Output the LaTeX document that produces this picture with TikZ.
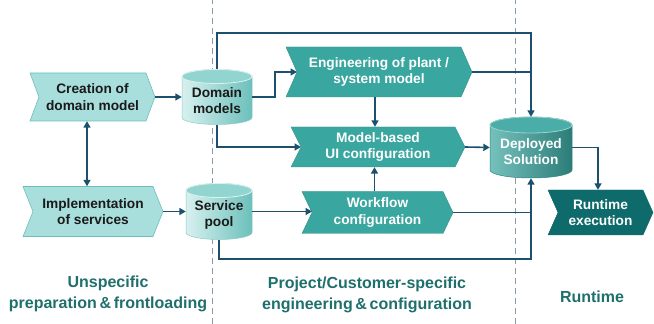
\documentclass[tikz,border=0pt]{standalone}
\usepackage{fontspec}
\setmainfont{Liberation Sans}
\usetikzlibrary{arrows.meta,calc}

\definecolor{lightfill}{HTML}{A8DFDC}
\definecolor{lightedge}{HTML}{6CBFBC}
\definecolor{midfill}{HTML}{3AA6A0}
\definecolor{darkfill}{HTML}{0F6B6B}
\definecolor{wire}{HTML}{1D4F6E}
\definecolor{divider}{HTML}{8A9BA8}
\definecolor{phase}{HTML}{1F6F6C}
\definecolor{ink}{HTML}{1A1A1A}

\tikzset{
  chevlight/.style={fill=lightfill, draw=lightedge, line width=0.6pt},
  chevmid/.style={fill=midfill, draw=midfill!85!black, line width=0.4pt},
  chevdark/.style={fill=darkfill, draw=darkfill, line width=0.4pt},
  chevtext/.style={inner sep=0pt, align=center, font=\bfseries\fontsize{13.7}{16.5}\selectfont},
  txtlight/.style={chevtext, text=ink},
  txtdark/.style={chevtext, text=white},
  cylbodylight/.style={left color=lightfill!45!white, right color=lightfill!45!midfill, draw=lightedge!80!white, line width=0.5pt},
  cyltoplight/.style={fill=lightfill!80!midfill, draw=white!60!lightfill, line width=0.8pt},
  cylbodydark/.style={left color=midfill!70!white, right color=midfill!75!black, draw=midfill!80!black, line width=0.5pt},
  cyltopdark/.style={fill=midfill!92!white, draw=midfill!50!white, line width=0.8pt},
  link/.style={draw=wire, line width=1.6pt},
  arr/.style={link, -{Triangle[width=7pt,length=6.5pt]}},
  arrboth/.style={link, {Triangle[width=7pt,length=6.5pt]}-{Triangle[width=7pt,length=6.5pt]}},
  divline/.style={draw=divider, line width=1pt, dash pattern=on 6pt off 4pt},
  phaselabel/.style={align=center, text=phase, font=\bfseries\fontsize{16}{21}\selectfont}
}

% chevron: name, cx, cy, width, height, depth, shape style, text style
\newcommand\chev[8]{%
  \path[#7] (#2-#4/2,#3+#5/2) -- (#2+#4/2-#6,#3+#5/2) -- (#2+#4/2,#3)
    -- (#2+#4/2-#6,#3-#5/2) -- (#2-#4/2,#3-#5/2) -- (#2-#4/2+#6,#3) -- cycle;
  \node[#8, minimum width=#4, minimum height=#5] (#1) at (#2,#3) {};
  \coordinate (#1-in) at (#2-#4/2+#6,#3);
}
% cylinder: name, cx, cy, width, height, cap radius, kind (light/dark), text
\newcommand\cyl[8]{%
  \path[cylbody#7] (#2-#4/2,#3+#5/2-#6) -- (#2-#4/2,#3-#5/2+#6)
    arc[start angle=180, end angle=360, x radius=#4/2, y radius=#6]
    -- (#2+#4/2,#3+#5/2-#6)
    arc[start angle=0, end angle=180, x radius=#4/2, y radius=#6] -- cycle;
  \path[cyltop#7] (#2,#3+#5/2-#6) ellipse[x radius=#4/2, y radius=#6];
  \node[minimum width=#4, minimum height=#5, inner sep=0pt] (#1) at (#2,#3) {};
  \node[txt#7, anchor=center] at (#2,#3-#6/2) {#8};
}

\begin{document}
\begin{tikzpicture}[x=1pt,y=1pt]
\useasboundingbox (0,0) rectangle (654,324);

% phase dividers
\draw[divline] (212,0) -- (212,324);
\draw[divline] (515,0) -- (515,324);

% shapes
\chev{cre}{92.5}{227}{125}{48}{9}{chevlight}{txtlight}
\node[txtlight] at (cre) {Creation of\\domain model};
\chev{imp}{93}{112.5}{140}{50}{10}{chevlight}{txtlight}
\node[txtlight] at (imp) {Implementation\\of services};

\cyl{dm}{217}{227}{70}{55}{7}{light}{Domain\\models}
\cyl{sp}{219}{112.5}{66}{56}{7}{light}{Service\\pool}

\chev{eng}{379}{252}{186}{50}{11}{chevmid}{txtdark}
\node[txtdark] at (eng) {Engineering of plant /\\system model};
\chev{mbc}{378}{177}{174}{40}{10}{chevmid}{txtdark}
\node[txtdark] at (mbc) {Model-based\\UI configuration};
\chev{wf}{377.5}{111.5}{151}{42}{10}{chevmid}{txtdark}
\node[txtdark] at (wf) {Workflow\\configuration};

\cyl{ds}{531}{176.5}{82}{61}{8}{dark}{Deployed\\Solution}

\chev{rt}{600.5}{111.5}{105}{45}{10}{chevdark}{txtdark}
\node[txtdark] at (rt) {Runtime\\execution};

% connectors
\coordinate (topy) at (0,291);
\coordinate (boty) at (0,65);
\draw[arr] (dm.north) -- (dm.north |- topy) -- (ds.north |- topy) -- (ds.north);
\draw[arr] (dm.east) -- ++(23,0) |- (eng-in);
\draw[arr] (dm.south) |- (mbc-in);
\draw[link] (eng.east) -- (eng.east -| ds.north);
\draw[arr] ([xshift=-4pt]eng.south) -- ([xshift=-4pt]eng.south |- mbc.north);
\draw[arr] (mbc.east) -- (ds.west);
\draw[arr] (sp.east) -- (sp.east -| wf-in);
\draw[arr] ([xshift=-3pt]wf.north) -- ([xshift=-3pt]wf.north |- mbc.south);
\draw[link] (wf.east) -- (wf.east -| ds.south);
\draw[arr] (sp.south) -- (sp.south |- boty) -- (ds.south |- boty) -- (ds.south);
\draw[arr] (ds.east) -| ([xshift=-2.5pt]rt.north);
\draw[arr] (cre.east) -- (dm.west);
\draw[arr] (imp.east) -- (sp.west);
\draw[arrboth] ([xshift=-5.5pt]cre.south) -- ([xshift=-5.5pt]cre.south |- imp.north);

% phase labels
\node[phaselabel] (ph1) at (108,30) {Unspecific\\preparation\,\&\,frontloading};
\node[phaselabel] (ph2) at (367,29) {Project/Customer-specific\\engineering\,\&\,configuration};
\node[phaselabel] (ph3) at (592,27) {Runtime};
\end{tikzpicture}
\end{document}
